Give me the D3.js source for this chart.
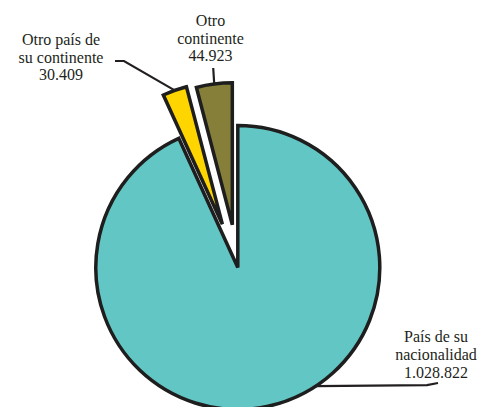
<!DOCTYPE html>
<html><head><meta charset="utf-8">
<script src="https://cdn.jsdelivr.net/npm/d3@7"></script>
<style>body{margin:0;background:#fff}svg{display:block}
text{font-family:"Liberation Serif","DejaVu Serif",serif;font-size:16px;fill:#231f20}</style>
</head><body><svg id="c" width="477" height="407"></svg>
<script>
// ---- data ----
const categories = ["País de su nacionalidad", "Otro país de su continente", "Otro continente"];
const values = [1028822, 30409, 44923];
const valueLabels = ["1.028.822", "30.409", "44.923"];
const labelLines = [["País de su", "nacionalidad"], ["Otro país de", "su continente"], ["Otro", "continente"]];
const colors = ["#62C6C4", "#FFD500", "#857F3A"];

// ---- layout / style ----
const W = 477, H = 407;
const cx = 237.8, cy = 267.5, R = 142;
const explode = [0, 46, 43];
const svg = d3.select("#c");
svg.append("rect").attr("width", W).attr("height", H).attr("fill", "#fff");

const pie = d3.pie().sort(null).value(d => d);
const arcs = pie(values);
const arc = d3.arc().innerRadius(0).outerRadius(R);

function offset(d, i) {
  const a = (d.startAngle + d.endAngle) / 2;
  return [Math.sin(a) * explode[i], -Math.cos(a) * explode[i]];
}

const g = svg.append("g").attr("transform", `translate(${cx},${cy})`);
g.selectAll("path.slice").data(arcs).join("path")
  .attr("class", "slice")
  .attr("d", arc)
  .attr("transform", (d, i) => { const o = offset(d, i); return `translate(${o[0]},${o[1]})`; })
  .attr("fill", (d, i) => colors[i])
  .attr("stroke", "#1e1e1e")
  .attr("stroke-width", 3.5)
  .attr("stroke-linejoin", "miter");

// leader lines
const lineCol = "#231f20";
function ptOnArc(d, i, ang, r) {
  const o = offset(d, i);
  return [cx + o[0] + Math.sin(ang) * r, cy + o[1] - Math.cos(ang) * r];
}
const mid = d => (d.startAngle + d.endAngle) / 2;
const mainAnchorAngle = 146.7 * Math.PI / 180;
const p0 = ptOnArc(arcs[0], 0, mainAnchorAngle, R);
const p1 = ptOnArc(arcs[1], 1, mid(arcs[1]), R);
const p2 = ptOnArc(arcs[2], 2, mid(arcs[2]), R);
const leaders = [
  [p0, [427, p0[1] - 1], [438, 383]],
  [p1, [124, 61], [115, 61]],
  [p2, [p2[0] - 1, 68]]
];
svg.selectAll("path.leader").data(leaders).join("path")
  .attr("class", "leader")
  .attr("d", d => d3.line()(d))
  .attr("fill", "none")
  .attr("stroke", lineCol)
  .attr("stroke-width", 2.2);

// labels
const labelPos = [[436, 342], [61, 45], [210.5, 26]];
const lh = [18, 17.5, 17.5];
labelLines.forEach((lines, i) => {
  const t = svg.append("text")
    .attr("x", labelPos[i][0]).attr("y", labelPos[i][1])
    .attr("text-anchor", "middle");
  lines.concat([valueLabels[i]]).forEach((s, k) => {
    t.append("tspan").attr("x", labelPos[i][0]).attr("y", labelPos[i][1] + k * lh[i]).text(s);
  });
});
</script></body></html>
